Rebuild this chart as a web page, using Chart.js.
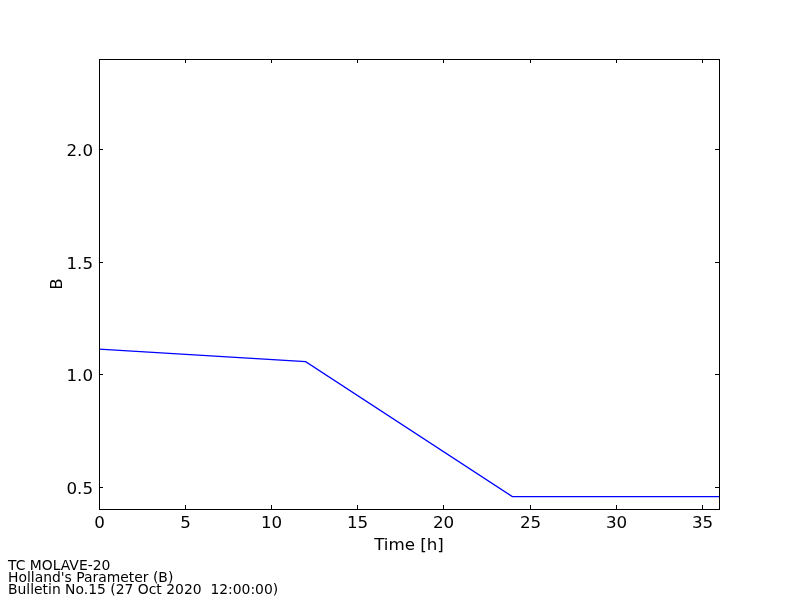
<!DOCTYPE html>
<html>
<head>
<meta charset="utf-8">
<script src="https://cdn.jsdelivr.net/npm/chart.js@4/dist/chart.umd.min.js"></script>
<style>
  html, body { margin: 0; padding: 0; background: #fff; }
  #wrap { width: 800px; height: 600px; }
</style>
</head>
<body>
<div id="wrap"><canvas id="chart" width="800" height="600"></canvas></div>
<script>
const hours = [0, 12, 24, 36]
const hollandB = [1.111, 1.055, 0.455, 0.455]
const xTicks = [0, 5, 10, 15, 20, 25, 30, 35]
const yTicks = [0.5, 1.0, 1.5, 2.0]
const xTitle = "Time [h]"
const yTitle = "B"
const footerLines = ["TC MOLAVE-20", "Holland's Parameter (B)", "Bulletin No.15 (27 Oct 2020  12:00:00)"]

const FONT = "'DejaVu Sans', sans-serif"

// matplotlib-style frame: inward ticks on all four sides, tick labels, titles and footer
const frameTicks = {
  id: "frameTicks",
  afterDraw(chart) {
    const { ctx, chartArea: a, scales } = chart
    ctx.save()
    ctx.strokeStyle = "#000"
    ctx.fillStyle = "#000"
    ctx.lineWidth = 1
    ctx.font = "16.7px " + FONT
    ctx.textBaseline = "alphabetic"

    ctx.beginPath()
    ctx.textAlign = "center"
    for (const v of xTicks) {
      const px = Math.round(scales.x.getPixelForValue(v)) + 0.5
      ctx.moveTo(px, a.bottom); ctx.lineTo(px, a.bottom - 4)
      ctx.moveTo(px, a.top); ctx.lineTo(px, a.top + 4)
      ctx.fillText(String(v), px, a.bottom + 19)
    }
    ctx.textAlign = "right"
    for (const v of yTicks) {
      const py = Math.round(scales.y.getPixelForValue(v)) + 0.5
      ctx.moveTo(a.left, py); ctx.lineTo(a.left + 4, py)
      ctx.moveTo(a.right, py); ctx.lineTo(a.right - 4, py)
      ctx.fillText(v.toFixed(1), a.left - 6, py + 6.5)
    }
    ctx.stroke()
    ctx.strokeRect(Math.round(a.left) + 0.5, Math.round(a.top) + 0.5,
      Math.round(a.right - a.left), Math.round(a.bottom - a.top))

    ctx.textAlign = "center"
    ctx.fillText(xTitle, (a.left + a.right) / 2, 550)
    ctx.save()
    ctx.translate(62, (a.top + a.bottom) / 2)
    ctx.rotate(-Math.PI / 2)
    ctx.fillText(yTitle, 0, 0)
    ctx.restore()

    ctx.font = "13.9px " + FONT
    ctx.textAlign = "left"
    footerLines.forEach((line, i) => ctx.fillText(line, 8, 570 + i * 12))
    ctx.restore()
  },
}

new Chart(document.getElementById("chart"), {
  type: "line",
  data: {
    datasets: [{
      data: hours.map((h, i) => ({ x: h, y: hollandB[i] })),
      borderColor: "#0000ff",
      borderWidth: 1.2,
      pointRadius: 0,
      tension: 0,
      fill: false,
    }],
  },
  options: {
    responsive: false,
    animation: false,
    layout: { padding: { left: 0, right: 81, top: 59, bottom: 0 } },
    plugins: { legend: { display: false }, tooltip: { enabled: false } },
    scales: {
      x: {
        type: "linear",
        min: 0,
        max: 36,
        afterBuildTicks: (s) => { s.ticks = xTicks.map((v) => ({ value: v })) },
        afterFit: (s) => { s.height = 91 },
        grid: { display: false },
        border: { display: false },
        ticks: { display: false },
      },
      y: {
        min: 0.4,
        max: 2.4,
        afterBuildTicks: (s) => { s.ticks = yTicks.map((v) => ({ value: v })) },
        afterFit: (s) => { s.width = 99 },
        grid: { display: false },
        border: { display: false },
        ticks: { display: false },
      },
    },
  },
  plugins: [frameTicks],
})
</script>
</body>
</html>
